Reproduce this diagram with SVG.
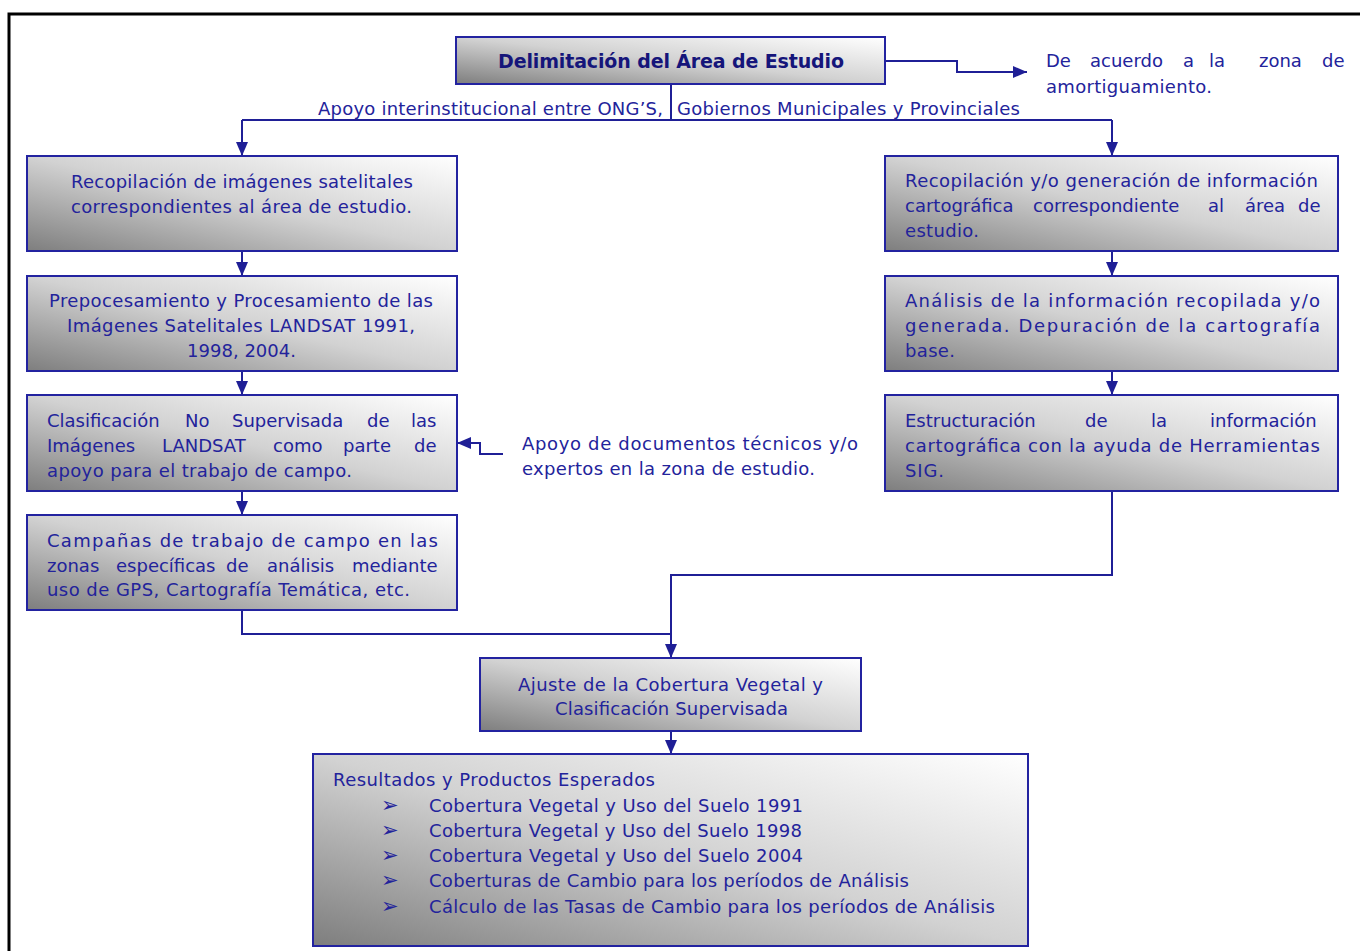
<svg xmlns="http://www.w3.org/2000/svg" width="1360" height="951" viewBox="0 0 1360 951">
<defs>
<linearGradient id="g" x1="0" y1="1" x2="1" y2="0">
<stop offset="0" stop-color="#7e7e7e"/>
<stop offset="0.5" stop-color="#d2d2d2"/>
<stop offset="1" stop-color="#ffffff"/>
</linearGradient>
<marker id="ar" viewBox="0 0 14 12" refX="14" refY="6" markerWidth="14" markerHeight="12" markerUnits="userSpaceOnUse" orient="auto">
<path d="M0,0 L14,6 L0,12 z" fill="#1f1f96"/>
</marker>
<style>
.box{fill:url(#g);stroke:#2323a0;stroke-width:2}
.t{font-family:"DejaVu Sans",Verdana,sans-serif;font-size:18px;fill:#23239b}
.b{font-family:"DejaVu Sans",Verdana,sans-serif;font-size:19px;font-weight:bold;fill:#15157a}
.k{font-family:"DejaVu Sans",sans-serif;font-size:21px;font-weight:bold;fill:#23239b}
.c{fill:none;stroke:#1f1f96;stroke-width:2}
</style>
</defs>
<rect width="1360" height="951" fill="#ffffff"/>
<path d="M9,951 V14 H1360" fill="none" stroke="#000" stroke-width="3"/>

<g id="connectors">
<path class="c" d="M885,61 H957 V72 H1027" marker-end="url(#ar)"/>
<path class="c" d="M671,84 V120"/>
<path class="c" d="M242,120 H1112"/>
<path class="c" d="M242,120 V156" marker-end="url(#ar)"/>
<path class="c" d="M1112,120 V156" marker-end="url(#ar)"/>
<path class="c" d="M242,251 V276" marker-end="url(#ar)"/>
<path class="c" d="M242,371 V395" marker-end="url(#ar)"/>
<path class="c" d="M242,491 V515" marker-end="url(#ar)"/>
<path class="c" d="M1112,251 V276" marker-end="url(#ar)"/>
<path class="c" d="M1112,371 V395" marker-end="url(#ar)"/>
<path class="c" d="M503,454 H480 V443 H457" marker-end="url(#ar)"/>
<path class="c" d="M242,610 V634 H671"/>
<path class="c" d="M1112,491 V575 H671 V658" marker-end="url(#ar)"/>
<path class="c" d="M671,731 V754" marker-end="url(#ar)"/>
</g>

<g id="top">
<rect class="box" x="456" y="37" width="429" height="47"/>
<text class="b" x="498" y="68" textLength="346">Delimitación del Área de Estudio</text>
</g>

<g id="note-top">
<text class="t" y="67"><tspan x="1046">De</tspan><tspan x="1090">acuerdo</tspan><tspan x="1183">a</tspan><tspan x="1209">la</tspan><tspan x="1259">zona</tspan><tspan x="1322">de</tspan></text>
<text class="t" x="1046" y="93" textLength="166">amortiguamiento.</text>
</g>

<g id="label-apoyo">
<text class="t" x="318" y="115" textLength="345">Apoyo interinstitucional entre ONG’S,</text>
<text class="t" x="677" y="115" textLength="343">Gobiernos Municipales y Provinciales</text>
</g>

<g id="l1">
<rect class="box" x="27" y="156" width="430" height="95"/>
<text class="t" x="71" y="188" textLength="342">Recopilación de imágenes satelitales</text>
<text class="t" x="71" y="213" textLength="341">correspondientes al área de estudio.</text>
</g>

<g id="l2">
<rect class="box" x="27" y="276" width="430" height="95"/>
<text class="t" x="49" y="307" textLength="384">Prepocesamiento y Procesamiento de las</text>
<text class="t" x="67" y="332" textLength="348">Imágenes Satelitales LANDSAT 1991,</text>
<text class="t" x="187" y="357" textLength="109">1998, 2004.</text>
</g>

<g id="l3">
<rect class="box" x="27" y="395" width="430" height="96"/>
<text class="t" y="427"><tspan x="47">Clasificación</tspan><tspan x="185">No</tspan><tspan x="232">Supervisada</tspan><tspan x="367">de</tspan><tspan x="411">las</tspan></text>
<text class="t" y="452"><tspan x="47">Imágenes</tspan><tspan x="162">LANDSAT</tspan><tspan x="273">como</tspan><tspan x="343">parte</tspan><tspan x="414">de</tspan></text>
<text class="t" x="47" y="477" textLength="305">apoyo para el trabajo de campo.</text>
</g>

<g id="l4">
<rect class="box" x="27" y="515" width="430" height="95"/>
<text class="t" x="47" y="547" textLength="391">Campañas de  trabajo de campo en las</text>
<text class="t" y="572"><tspan x="47">zonas</tspan><tspan x="116">específicas</tspan><tspan x="226">de</tspan><tspan x="267">análisis</tspan><tspan x="352">mediante</tspan></text>
<text class="t" x="47" y="596" textLength="363">uso de GPS, Cartografía Temática, etc.</text>
</g>

<g id="r1">
<rect class="box" x="885" y="156" width="453" height="95"/>
<text class="t" x="905" y="187" textLength="413">Recopilación y/o generación de información</text>
<text class="t" y="212"><tspan x="905">cartográfica</tspan><tspan x="1033">correspondiente</tspan><tspan x="1208">al</tspan><tspan x="1245">área</tspan><tspan x="1298">de</tspan></text>
<text class="t" x="905" y="237" textLength="74">estudio.</text>
</g>

<g id="r2">
<rect class="box" x="885" y="276" width="453" height="95"/>
<text class="t" x="905" y="307" textLength="415">Análisis de la información recopilada y/o</text>
<text class="t" x="905" y="332" textLength="415">generada. Depuración de la cartografía</text>
<text class="t" x="905" y="357" textLength="50">base.</text>
</g>

<g id="r3">
<rect class="box" x="885" y="395" width="453" height="96"/>
<text class="t" y="427"><tspan x="905">Estructuración</tspan><tspan x="1085">de</tspan><tspan x="1151">la</tspan><tspan x="1210">información</tspan></text>
<text class="t" x="905" y="452" textLength="415">cartográfica con la ayuda de Herramientas</text>
<text class="t" x="905" y="477" textLength="39">SIG.</text>
</g>

<g id="note-left">
<text class="t" x="522" y="450" textLength="336">Apoyo de documentos técnicos y/o</text>
<text class="t" x="522" y="475" textLength="293">expertos en la zona de estudio.</text>
</g>

<g id="ajuste">
<rect class="box" x="480" y="658" width="381" height="73"/>
<text class="t" x="518" y="691" textLength="305">Ajuste de la Cobertura Vegetal y</text>
<text class="t" x="555" y="715" textLength="233">Clasificación Supervisada</text>
</g>

<g id="resultados">
<rect class="box" x="313" y="754" width="715" height="192"/>
<text class="t" x="333" y="786" textLength="322">Resultados y Productos Esperados</text>
<text class="k" x="381" y="812">➢</text>
<text class="k" x="381" y="837">➢</text>
<text class="k" x="381" y="862">➢</text>
<text class="k" x="381" y="887">➢</text>
<text class="k" x="381" y="913">➢</text>
<text class="t" x="429" y="812" textLength="374">Cobertura Vegetal y Uso del Suelo 1991</text>
<text class="t" x="429" y="837" textLength="373">Cobertura Vegetal y Uso del Suelo 1998</text>
<text class="t" x="429" y="862" textLength="374">Cobertura Vegetal y Uso del Suelo 2004</text>
<text class="t" x="429" y="887" textLength="480">Coberturas de Cambio para los períodos de Análisis</text>
<text class="t" x="429" y="913" textLength="566">Cálculo de las Tasas de Cambio para los períodos de Análisis</text>
</g>
</svg>
